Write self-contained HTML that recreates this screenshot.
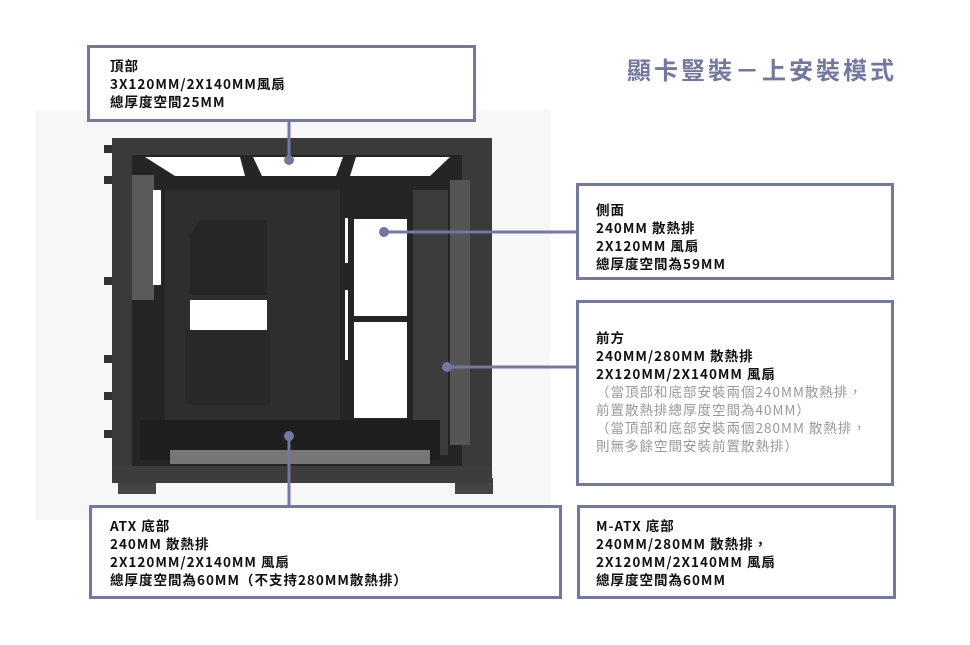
<!DOCTYPE html>
<html><head><meta charset="utf-8"><style>
body{margin:0;width:970px;height:645px;background:#fff;position:relative;overflow:hidden;font-family:"Liberation Sans","Noto Sans CJK TC",sans-serif;}
.box{position:absolute;border:3px solid #7378a2;box-sizing:border-box;background:#fff;}
.t{position:absolute;font-size:13.5px;line-height:18px;color:#111;font-weight:bold;letter-spacing:1px;white-space:nowrap;font-family:"Noto Sans CJK TC","Liberation Sans",sans-serif;}
.g{color:#999;font-weight:normal;}
.title{position:absolute;left:627px;top:51px;font-size:24px;color:#7378a2;font-weight:bold;letter-spacing:3px;font-family:"Noto Sans CJK TC",sans-serif;}
</style></head><body>
<svg width="970" height="645" style="position:absolute;left:0;top:0">
<rect x="35" y="110" width="515" height="410" fill="#f7f7f7"/>
<rect x="112" y="138" width="380" height="345" fill="#3a3a3a"/>
<rect x="118" y="478" width="38" height="16" fill="#444"/>
<rect x="455" y="478" width="38" height="16" fill="#444"/>
<rect x="132" y="155" width="330" height="312" fill="#252525"/>
<polygon points="145,157 240,157 245,176 175,176" fill="#fff"/>
<polygon points="253,157 343,157 336,176 262,176" fill="#fff"/>
<polygon points="356,157 450,157 430,176 350,176" fill="#fff"/>
<rect x="165" y="190" width="175" height="235" fill="#2e2e2e"/>
<polygon points="200,220 267,220 267,295 190,295 190,235" fill="#262626"/>
<rect x="190" y="300" width="77" height="30" fill="#fff"/>
<rect x="185" y="330" width="85" height="75" fill="#292929"/>
<rect x="354" y="219" width="53" height="97" fill="#fff"/>
<rect x="354" y="322" width="53" height="96" fill="#fff"/>
<rect x="345" y="218" width="3" height="45" fill="#fff"/>
<rect x="345" y="290" width="3" height="70" fill="#fff"/>
<rect x="413" y="190" width="35" height="265" fill="#3c3c3c"/>
<rect x="450" y="180" width="20" height="265" fill="#555"/>
<rect x="132" y="175" width="22" height="125" fill="#5a5a5a"/>
<rect x="153" y="190" width="8" height="95" fill="#fff"/>
<rect x="140" y="420" width="300" height="40" fill="#1e1e1e"/>
<rect x="170" y="450" width="260" height="14" fill="#777"/>
<rect x="112" y="466" width="380" height="17" fill="#3d3d3d"/>
<g fill="#333"><rect x="104" y="145" width="8" height="8"/><rect x="104" y="176" width="8" height="8"/><rect x="104" y="277" width="8" height="8"/><rect x="104" y="355" width="8" height="8"/><rect x="104" y="392" width="8" height="8"/><rect x="104" y="430" width="8" height="8"/></g>
<g stroke="#7378a2" stroke-width="3" fill="#7378a2">
<line x1="289" y1="121" x2="289" y2="160"/><circle cx="289" cy="160" r="5" stroke="none"/>
<line x1="384" y1="232" x2="577" y2="232"/><circle cx="384" cy="232" r="5" stroke="none"/>
<line x1="447" y1="367" x2="577" y2="367"/><circle cx="447" cy="367" r="5" stroke="none"/>
<line x1="289" y1="436" x2="289" y2="506"/><circle cx="289" cy="436" r="5" stroke="none"/>
</g>
</svg>
<div class="title">顯卡豎裝－上安裝模式</div>
<div class="box" style="left:87px;top:45px;width:389px;height:77px"></div>
<div class="t" style="left:110px;top:56px">頂部<br>3X120MM/2X140MM風扇<br>總厚度空間25MM</div>
<div class="box" style="left:576px;top:183px;width:318px;height:97px"></div>
<div class="t" style="left:596px;top:200px">側面<br>240MM 散熱排<br>2X120MM 風扇<br>總厚度空間為59MM</div>
<div class="box" style="left:576px;top:300px;width:318px;height:186px"></div>
<div class="t" style="left:596px;top:328px">前方<br>240MM/280MM 散熱排<br>2X120MM/2X140MM 風扇<br><span class="g">（當頂部和底部安裝兩個240MM散熱排，<br>前置散熱排總厚度空間為40MM）<br>（當頂部和底部安裝兩個280MM 散熱排，<br>則無多餘空間安裝前置散熱排）</span></div>
<div class="box" style="left:89px;top:505px;width:473px;height:94px"></div>
<div class="t" style="left:110px;top:516px">ATX 底部<br>240MM 散熱排<br>2X120MM/2X140MM 風扇<br>總厚度空間為60MM（不支持280MM散熱排）</div>
<div class="box" style="left:577px;top:505px;width:319px;height:94px"></div>
<div class="t" style="left:596px;top:516px">M-ATX 底部<br>240MM/280MM 散熱排，<br>2X120MM/2X140MM 風扇<br>總厚度空間為60MM</div>
</body></html>
